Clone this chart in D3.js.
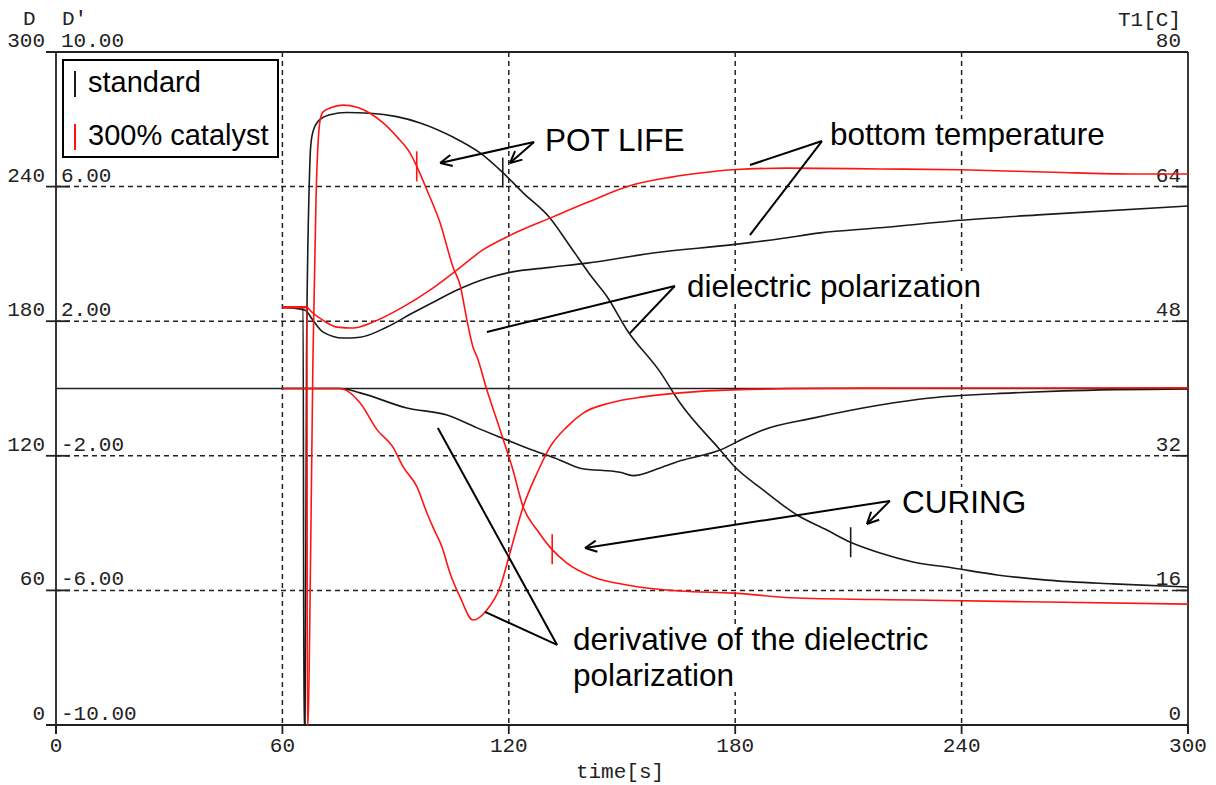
<!DOCTYPE html>
<html>
<head>
<meta charset="utf-8">
<script src="https://cdn.jsdelivr.net/npm/d3@7"></script>
<style>
  body { margin: 0; background: #fff; }
  .mono { font-family: "Liberation Mono", monospace; font-size: 21px; fill: #222; }
  .note { font-family: "Liberation Sans", Arial, sans-serif; font-size: 31.5px; fill: #000; }
</style>
</head>
<body>
<div id="container"></div>
<script>
// time ticks and the three y scales (D, D', T1)
let timeTicks = [0, 60, 120, 180, 240, 300];
let dTicks = [0, 60, 120, 180, 240, 300];
let dPrimeLabels = ["-10.00", "-6.00", "-2.00", "2.00", "6.00", "10.00"];
let tempTicks = [0, 16, 32, 48, 64, 80];

// dielectric polarization D, [time s, D]
let dielStandard = [[60,186],[65.5,186],[65.7,0],[66.0,0],[66.4,164],[67.1,240],[67.5,258],[68.2,265],[70,270],[72.6,272],
  [77,273],[83.2,272.7],[90.3,271.2],[96.5,268.4],[105.2,262.1],[112.4,255],[118.5,246.1],[123.8,237.2],[130.9,226],
  [136,214],[142.3,199],[146,191],[151.3,176.1],[160.1,157.4],[165.4,143.5],[176,122.6],[179.4,115.9],[187.4,104.8],
  [196.4,93.6],[204.3,86.9],[210.4,81.6],[218.4,76.7],[227.1,72.7],[237.7,70],[249.4,66.9],[262.6,64.6],[280.1,62.9],[300,61.5]];
let dielCatalyst = [[60,186],[66.5,186],[66.6,0],[66.8,0],[67.2,38],[68.1,164],[68.9,234],[70,269.7],[70.8,273.3],[72.6,275],
  [76.1,276.3],[79.8,275.4],[83.2,272.7],[86.7,268.4],[90.4,262.1],[93.8,255],[95.7,248.7],[98.3,238.5],[101.8,223.8],
  [105.2,204.2],[107.1,196],[108.9,180.5],[110.5,168.5],[111.6,164],[114.2,149.3],[117.7,131.5],[121.1,113.7],[123.8,97.2],
  [127.5,86.9],[130.9,79.3],[135.4,72.2],[142.3,66],[151.3,62.4],[165.4,59.7],[179.4,58.8],[196.4,56.6],[227.1,55.7],
  [262.6,54.8],[300,53.9]];

// bottom temperature T1 [C]
let tempStandard = [[60,49.7],[66,49.3],[68.1,48.1],[70.8,46.7],[76.1,46],[80.6,46.1],[87.7,47.3],[94.6,49],[101,50.5],
  [106.3,51.7],[114.2,53.1],[120.3,53.8],[130.9,54.4],[140.7,54.9],[158.2,56.1],[179.4,57.1],[191.9,57.8],[202.5,58.5],
  [218.4,59.1],[239.6,60],[262.6,60.7],[300,61.7]];
let tempCatalyst = [[60,49.7],[66.5,49.7],[67.3,49.3],[70.8,48.1],[74.5,47.3],[78.7,47.2],[84,47.9],[92,49.7],[99.1,51.7],
  [106.3,54.1],[113.2,56.5],[120.3,58.2],[131.7,60.4],[140.7,62.1],[152.1,64.1],[162.7,65.1],[172.5,65.7],[179.4,66],
  [193.7,66.2],[218.4,66.1],[239.6,66],[264.2,65.7],[285.4,65.5],[300,65.5]];

// derivative of the dielectric polarization D'
let derivStandard = [[60,0],[75.3,0],[80.6,-0.13],[93,-0.58],[103.6,-0.79],[111.6,-1.17],[119.5,-1.53],[124.8,-1.77],
  [133.6,-2.13],[138.9,-2.37],[149.5,-2.49],[152.9,-2.59],[160.1,-2.36],[165.4,-2.15],[176,-1.83],[183.1,-1.44],
  [187.4,-1.23],[200.6,-0.88],[218.4,-0.49],[231.6,-0.28],[253.6,-0.13],[266.9,-0.07],[300,-0.01]];
let derivCatalyst = [[60,0],[75.3,0],[80.6,-0.43],[85.1,-1.23],[89.3,-1.74],[92,-2.33],[95.7,-2.93],[98.3,-3.7],
  [99.9,-4.12],[102.3,-4.71],[104.4,-5.48],[107.1,-6.2],[110.5,-6.88],[114.2,-6.58],[117.7,-5.9],[120.3,-4.89],
  [123.8,-3.52],[127.5,-2.51],[130.9,-1.74],[135.4,-1.14],[139.7,-0.73],[146.8,-0.43],[155.6,-0.25],[165.4,-0.13],
  [179.4,-0.04],[213.9,0.01],[300,0.02]];

// pot life / curing marks (time s)
let potLifeTimes = { standard: 118.4, catalyst: 95.6 };
let curingTimes = { standard: 210.6, catalyst: 131.5 };

// annotations: text position and line end points in (time, D)
let notes = [
  { text: ["POT LIFE"], at: [129.6, 255.9], apex: [126.7, 259.9], ends: [[101.8, 250.5], [120.3, 250.5]], arrow: true },
  { text: ["bottom temperature"], at: [205.1, 258.5], apex: [203, 260.3], ends: [[183.9, 249.6], [183.9, 218.4]], arrow: false },
  { text: ["dielectric polarization"], at: [167.2, 190.8], apex: [164, 195.7], ends: [[114.2, 175.2], [152.1, 174.7]], arrow: false },
  { text: ["CURING"], at: [224.2, 94.5], apex: [221, 99.9], ends: [[140.2, 78.9], [214.9, 89.6]], arrow: true },
  { text: ["derivative of the dielectric", "polarization"], at: [137, 33.4], apex: [132.8, 35.7], ends: [[101.2, 132.4], [113.7, 50.4]], arrow: false }
];

let w = 1216, h = 785;
let plotLeft = 56, plotRight = 1188, plotTop = 52, plotBottom = 725;

let svg = d3.select("#container").append("svg").attr("width", w).attr("height", h);

let x = d3.scaleLinear().domain([0, 300]).range([plotLeft, plotRight]);
let yD = d3.scaleLinear().domain([0, 300]).range([plotBottom, plotTop]);
let yDp = d3.scaleLinear().domain([-10, 10]).range([plotBottom, plotTop]);
let yT = d3.scaleLinear().domain([0, 80]).range([plotBottom, plotTop]);

let ink = "#222";

// dashed grid
svg.append("g").selectAll("line").data(dTicks.slice(1, -1)).enter().append("line")
  .attr("x1", plotLeft).attr("x2", plotRight).attr("y1", d => yD(d)).attr("y2", d => yD(d))
  .attr("stroke", ink).attr("stroke-width", 1.5).attr("stroke-dasharray", "5,4");
svg.append("g").selectAll("line").data(timeTicks.slice(1, -1)).enter().append("line")
  .attr("x1", d => x(d)).attr("x2", d => x(d)).attr("y1", plotTop).attr("y2", plotBottom)
  .attr("stroke", ink).attr("stroke-width", 1.5).attr("stroke-dasharray", "5,4");

// zero line of D'
svg.append("line").attr("x1", plotLeft).attr("x2", plotRight).attr("y1", yDp(0)).attr("y2", yDp(0))
  .attr("stroke", ink).attr("stroke-width", 1.5);

// frame: left, right, top, bottom
let frame = svg.append("g").attr("stroke", ink).attr("stroke-width", 1.8);
frame.append("line").attr("x1", plotLeft).attr("x2", plotLeft).attr("y1", plotTop).attr("y2", plotBottom + 9);
frame.append("line").attr("x1", plotRight).attr("x2", plotRight).attr("y1", plotTop).attr("y2", plotBottom + 9);
frame.append("line").attr("x1", plotLeft - 10).attr("x2", plotRight).attr("y1", plotTop).attr("y2", plotTop);
frame.append("line").attr("x1", plotLeft - 10).attr("x2", plotRight).attr("y1", plotBottom).attr("y2", plotBottom);

// solid ticks at both ends of each grid row
frame.selectAll(".lt").data(dTicks).enter().append("line")
  .attr("x1", plotLeft - 10).attr("x2", plotLeft + 14).attr("y1", d => yD(d)).attr("y2", d => yD(d));
frame.selectAll(".rt").data(dTicks).enter().append("line")
  .attr("x1", plotRight - 12).attr("x2", plotRight).attr("y1", d => yD(d)).attr("y2", d => yD(d));
frame.selectAll(".bt").data(timeTicks).enter().append("line")
  .attr("x1", d => x(d)).attr("x2", d => x(d)).attr("y1", plotBottom).attr("y2", plotBottom + 9);

// axis labels
let labels = svg.append("g").attr("class", "mono");
labels.selectAll(".dl").data(dTicks).enter().append("text")
  .attr("x", plotLeft - 11).attr("y", d => yD(d) - 5).attr("text-anchor", "end").text(d => d);
labels.selectAll(".dpl").data(dPrimeLabels).enter().append("text")
  .attr("x", plotLeft + 5).attr("y", (d, i) => yD(dTicks[i]) - 5).text(d => d);
labels.selectAll(".tl").data(tempTicks).enter().append("text")
  .attr("x", plotRight - 7).attr("y", d => yT(d) - 5).attr("text-anchor", "end").text(d => d);
labels.selectAll(".xl").data(timeTicks).enter().append("text")
  .attr("x", d => x(d)).attr("y", plotBottom + 27).attr("text-anchor", "middle").text(d => d);
labels.append("text").attr("x", 23).attr("y", 25).text("D");
labels.append("text").attr("x", 62).attr("y", 25).text("D'");
labels.append("text").attr("x", plotRight - 7).attr("y", 26).attr("text-anchor", "end").text("T1[C]");
labels.append("text").attr("x", 620).attr("y", 778).attr("text-anchor", "middle").text("time[s]");

// annotation texts sit on white so the grid does not run through them
let noteLayer = svg.append("g");
notes.forEach(function(n) {
  let g = noteLayer.append("g");
  let bg = g.append("rect").attr("fill", "#fff");
  let t = g.append("text").attr("class", "note").attr("x", x(n.at[0])).attr("y", yD(n.at[1]));
  n.text.forEach(function(s, i) {
    t.append("tspan").attr("x", x(n.at[0])).attr("dy", i == 0 ? 0 : 36).text(s);
  });
  let b = t.node().getBBox();
  bg.attr("x", b.x - 2).attr("y", b.y + 3).attr("width", b.width + 4).attr("height", b.height - 4);
});

// curves
function drawCurve(data, yScale, color) {
  let line = d3.line().curve(d3.curveMonotoneX).x(d => x(d[0])).y(d => yScale(d[1]));
  svg.append("path").datum(data).attr("d", line)
    .attr("fill", "none").attr("stroke", color).attr("stroke-width", 1.6);
}
let black = "#1a1a1a", red = "#ff1414";
drawCurve(derivStandard, yDp, black);
drawCurve(tempStandard, yT, black);
drawCurve(dielStandard, yD, black);
drawCurve(derivCatalyst, yDp, red);
drawCurve(tempCatalyst, yT, red);
drawCurve(dielCatalyst, yD, red);

// short vertical marks on the D curves
function valueAt(data, t) {
  for (let i = 1; i < data.length; i++) {
    if (data[i][0] >= t) {
      let a = data[i - 1], b = data[i];
      return a[1] + (b[1] - a[1]) * (t - a[0]) / (b[0] - a[0]);
    }
  }
  return data[data.length - 1][1];
}
let marks = [
  [dielStandard, potLifeTimes.standard, black], [dielCatalyst, potLifeTimes.catalyst, red],
  [dielStandard, curingTimes.standard, black], [dielCatalyst, curingTimes.catalyst, red]
];
marks.forEach(function(m) {
  let cx = x(m[1]), cy = yD(valueAt(m[0], m[1]));
  svg.append("line").attr("x1", cx).attr("x2", cx).attr("y1", cy - 15).attr("y2", cy + 15)
    .attr("stroke", m[2]).attr("stroke-width", 1.6);
});

// annotation pointer lines
notes.forEach(function(n) {
  let ax = x(n.apex[0]), ay = yD(n.apex[1]);
  n.ends.forEach(function(e) {
    let ex = x(e[0]), ey = yD(e[1]);
    svg.append("line").attr("x1", ax).attr("y1", ay).attr("x2", ex).attr("y2", ey)
      .attr("stroke", "#000").attr("stroke-width", 2);
    if (n.arrow) {
      let ang = Math.atan2(ay - ey, ax - ex);
      [0.45, -0.45].forEach(function(da) {
        svg.append("line").attr("x1", ex).attr("y1", ey)
          .attr("x2", ex + 13 * Math.cos(ang + da)).attr("y2", ey + 13 * Math.sin(ang + da))
          .attr("stroke", "#000").attr("stroke-width", 2);
      });
    }
  });
});

// legend
let legend = svg.append("g");
legend.append("rect").attr("x", 63).attr("y", 60).attr("width", 215).attr("height", 97)
  .attr("fill", "#fff").attr("stroke", "#000").attr("stroke-width", 2);
let legendItems = [["standard", black], ["300% catalyst", red]];
legendItems.forEach(function(d, i) {
  let base = 92 + i * 53;
  legend.append("line").attr("x1", 75).attr("x2", 75).attr("y1", base - 21).attr("y2", base + 5)
    .attr("stroke", d[1]).attr("stroke-width", 2);
  legend.append("text").attr("class", "note").style("font-size", "29px")
    .attr("x", 88).attr("y", base).text(d[0]);
});
</script>
</body>
</html>
